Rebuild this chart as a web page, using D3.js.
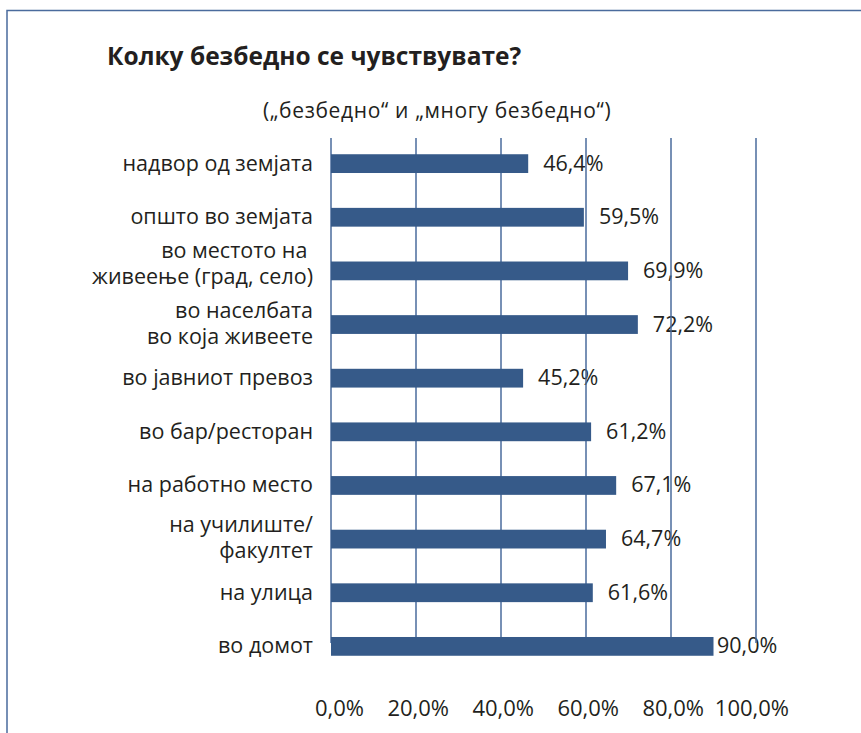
<!DOCTYPE html>
<html>
<head>
<meta charset="utf-8">
<script src="https://cdn.jsdelivr.net/npm/d3@7"></script>
<style>
  body { margin: 0; background: #fff; }
  text { font-family: "Open Sans", "Noto Sans", sans-serif; fill: #231f20; }
</style>
</head>
<body>
<div id="container"></div>
<script>
// chart data
var categories = [
    "надвор од земјата",
    "општо во земјата",
    "во местото на \nживеење (град, село)",
    "во населбата\nво која живеете",
    "во јавниот превоз",
    "во бар/ресторан",
    "на работно место",
    "на училиште/\nфакултет",
    "на улица",
    "во домот"
];
var values = [46.4, 59.5, 69.9, 72.2, 45.2, 61.2, 67.1, 64.7, 61.6, 90.0];
var ticks = [0, 20, 40, 60, 80, 100];
var title = "Колку безбедно се чувствувате?";
var subtitle = "(„безбедно“ и „многу безбедно“)";

var width = 861, height = 733;
var barColor = "#365a89";
var lineColor = "#4a6b9d";

var fmt = function(v) { return v.toFixed(1).replace(".", ",") + "%"; };

var svg = d3.select("#container").append("svg")
    .attr("width", width)
    .attr("height", height);

// frame (top + left only)
svg.append("path")
    .attr("d", "M7,733V10.5H861")
    .attr("fill", "none")
    .attr("stroke", lineColor)
    .attr("stroke-width", 1.5);

svg.append("text")
    .attr("x", 107).attr("y", 65)
    .style("font-size", "24.5px")
    .style("font-weight", "bold")
    .text(title);

svg.append("text")
    .attr("x", 263).attr("y", 118)
    .style("font-size", "21px")
    .style("letter-spacing", "0.65px")
    .text(subtitle);

var x = d3.scaleLinear().domain([0, 100]).range([331, 756]);
var y = d3.scaleBand().domain(categories).range([136.8, 673.2])
    .paddingInner(0.65).paddingOuter(0.325);

// value labels (drawn first, gridlines pass over them)
svg.append("g").selectAll("text")
    .data(values)
    .enter().append("text")
    .attr("x", function(d) { return Math.min(x(d) + 15, 717); })
    .attr("y", function(d, i) { return y(categories[i]) + y.bandwidth() / 2 + 7; })
    .style("font-size", "21.5px")
    .text(fmt);

// gridlines
svg.append("g").selectAll("line")
    .data(ticks)
    .enter().append("line")
    .attr("x1", function(d) { return x(d); })
    .attr("x2", function(d) { return x(d); })
    .attr("y1", 138)
    .attr("y2", 643)
    .attr("stroke", lineColor)
    .attr("stroke-width", 1.5);

// bars
svg.append("g").selectAll("rect")
    .data(values)
    .enter().append("rect")
    .attr("x", x(0))
    .attr("y", function(d, i) { return y(categories[i]); })
    .attr("width", function(d) { return x(d) - x(0); })
    .attr("height", y.bandwidth())
    .attr("fill", barColor);

// category labels
var labelShift = { 2: -6 };
var cats = svg.append("g").selectAll("text")
    .data(categories)
    .enter().append("text")
    .attr("text-anchor", "end")
    .style("font-size", "21.5px")
    .attr("transform", function(d, i) {
        var cy = y(d) + y.bandwidth() / 2 + (labelShift[i] || 0);
        return "translate(313," + cy + ")";
    });
cats.each(function(d) {
    var lines = d.split("\n");
    var t = d3.select(this);
    lines.forEach(function(l, j) {
        var off = lines.length === 1 ? 7 : (j === 0 ? -7 : 19);
        t.append("tspan").attr("x", 0).attr("y", off).text(l);
    });
});

// x tick labels (right edges sit a fixed step right of each gridline)
svg.append("g").selectAll("text")
    .data(ticks)
    .enter().append("text")
    .attr("x", function(d) { return x(d) + 33; })
    .attr("y", 716)
    .attr("text-anchor", "end")
    .style("font-size", "22px")
    .text(fmt);
</script>
</body>
</html>
